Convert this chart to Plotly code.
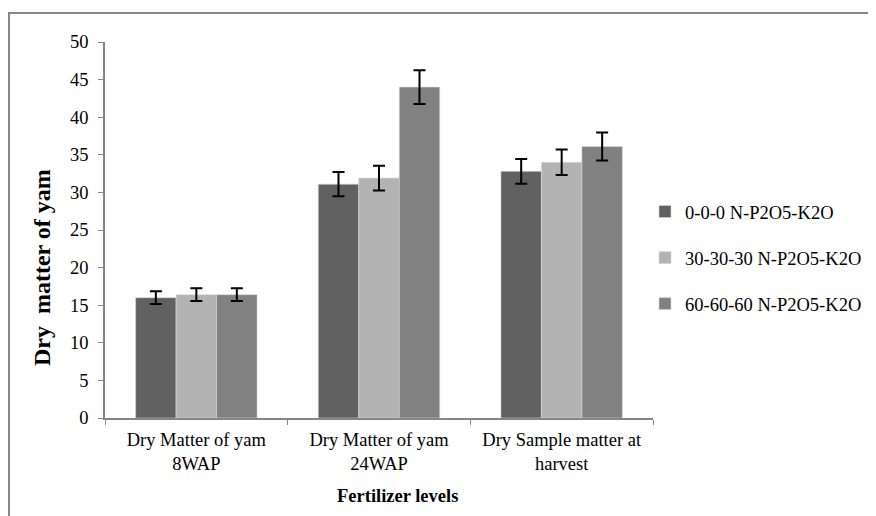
import plotly.graph_objects as go

categories = ["Dry Matter of yam<br>8WAP", "Dry Matter of yam<br>24WAP", "Dry Sample matter at<br>harvest"]
series_names = ["0-0-0 N-P2O5-K2O", "30-30-30 N-P2O5-K2O", "60-60-60 N-P2O5-K2O"]
values_000 = [16.0, 31.1, 32.8]
values_303030 = [16.4, 31.9, 34.0]
values_606060 = [16.4, 44.0, 36.1]
errors_000 = [0.85, 1.6, 1.65]
errors_303030 = [0.85, 1.65, 1.7]
errors_606060 = [0.85, 2.25, 1.85]
colors = ["#616161", "#b3b3b3", "#818181"]
y_ticks = [0, 5, 10, 15, 20, 25, 30, 35, 40, 45, 50]

FONT = "Liberation Serif"
OFF = 8  # page body margin
W, H = 876 - OFF, 516 - OFF
# plot area in page pixels: x 105..653, y 42..418
L, R, T, B = 105 - OFF, W - (653 - OFF), 42 - OFF, H - (418 - OFF)
pw, ph = W - L - R, H - T - B


def px_x(x):
    return (x - OFF - L) / pw


def px_y(y):
    return (H - B - (y - OFF)) / ph


fig = go.Figure()
for name, vals, errs, col in zip(series_names,
                                 [values_000, values_303030, values_606060],
                                 [errors_000, errors_303030, errors_606060],
                                 colors):
    fig.add_trace(go.Bar(
        x=categories, y=vals, name=name, legendgroup=name,
        marker=dict(color=col, line=dict(width=0.6, color="#d9d9d9")),
        error_y=dict(type="data", array=errs, visible=True,
                     color="black", thickness=2, width=6),
    ))

fig.update_layout(
    width=W, height=H,
    margin=dict(l=L, r=R, t=T, b=B, pad=0, autoexpand=False),
    paper_bgcolor="white", plot_bgcolor="white",
    barmode="group", bargap=0.335, bargroupgap=0,
    font=dict(family=FONT, size=18.5, color="black"),
    showlegend=True,
    legend=dict(
        x=px_x(645), y=px_y(193), xanchor="left", yanchor="top",
        traceorder="grouped", tracegroupgap=19,
        font=dict(family=FONT, size=18.5, color="black"),
        itemwidth=30, bgcolor="rgba(0,0,0,0)",
    ),
    xaxis=dict(
        showline=True, linecolor="#868686", linewidth=1.5,
        ticks="outside", tickson="boundaries", ticklen=5, tickcolor="#868686",
        tickfont=dict(family=FONT, size=18.5),
        ticklabelstandoff=4,
        showgrid=False, zeroline=False,
    ),
    yaxis=dict(
        range=[0, 50], tickvals=y_ticks,
        showline=True, linecolor="#868686", linewidth=1.5,
        ticks="outside", ticklen=5, tickcolor="#868686",
        tickfont=dict(family=FONT, size=18.5),
        ticklabelstandoff=6,
        showgrid=False, zeroline=False,
    ),
    shapes=[dict(
        type="rect", xref="paper", yref="paper",
        x0=px_x(9), x1=px_x(900), y0=px_y(540), y1=px_y(13),
        line=dict(color="#878787", width=2), fillcolor="rgba(0,0,0,0)",
        layer="below",
    )],
    annotations=[
        dict(text="<b>Dry  matter of yam</b>", xref="paper", yref="paper",
             x=px_x(42), y=px_y(268), textangle=-90, showarrow=False,
             xanchor="center", yanchor="middle",
             font=dict(family=FONT, size=24, color="black")),
        dict(text="<b>Fertilizer levels</b>", xref="paper", yref="paper",
             x=px_x(397), y=px_y(496), showarrow=False,
             xanchor="center", yanchor="middle",
             font=dict(family=FONT, size=18.5, color="black")),
    ],
)

fig.write_html("out.html")
